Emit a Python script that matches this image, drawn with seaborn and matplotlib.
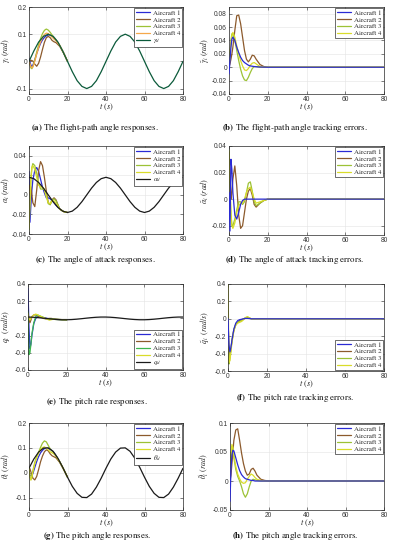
"""Formation flight simulation results: responses and tracking errors of four aircraft."""

import matplotlib
matplotlib.use("Agg")
import matplotlib.pyplot as plt
import matplotlib.transforms as mtransforms
import pandas as pd
import seaborn as sns

# ---- data ----
t_des = [0, 2.5, 5, 7.5, 10, 12.5, 15, 17.5, 20, 22.5, 25, 27.5, 30, 32.5, 35, 37.5,
         40, 42.5, 45, 47.5, 50, 52.5, 55, 57.5, 60, 62.5, 65, 67.5, 70, 72.5, 75, 77.5, 80]
t_tr = [0, 0.5, 1, 1.5, 2, 3, 4, 5, 6, 7, 8, 9, 10, 11, 12, 13, 14, 16, 18, 20]
t_err = t_tr + [80]
aircraft = ["Aircraft 1", "Aircraft 2", "Aircraft 3", "Aircraft 4"]

gamma_d = [0, 0.038, 0.071, 0.092, 0.1, 0.092, 0.071, 0.038, 0, -0.038, -0.071, -0.092,
           -0.1, -0.092, -0.071, -0.038, 0, 0.038, 0.071, 0.092, 0.1, 0.092, 0.071, 0.038,
           0, -0.038, -0.071, -0.092, -0.1, -0.092, -0.071, -0.038, 0]
alpha_d = [0.018, 0.0166, 0.0127, 0.0069, 0, -0.0069, -0.0127, -0.0166, -0.018, -0.0166,
           -0.0127, -0.0069, 0, 0.0069, 0.0127, 0.0166, 0.018, 0.0166, 0.0127, 0.0069, 0,
           -0.0069, -0.0127, -0.0166, -0.018, -0.0166, -0.0127, -0.0069, 0, 0.0069, 0.0127,
           0.0166, 0.018]
q_d = [0.0158, 0.0136, 0.0094, 0.0037, -0.0025, -0.0084, -0.0129, -0.0156, -0.0158, -0.0136,
       -0.0094, -0.0037, 0.0025, 0.0084, 0.0129, 0.0156, 0.0158, 0.0136, 0.0094, 0.0037,
       -0.0025, -0.0084, -0.0129, -0.0156, -0.0158, -0.0136, -0.0094, -0.0037, 0.0025,
       0.0084, 0.0129, 0.0156, 0.0158]
theta_d = [0.018, 0.055, 0.083, 0.099, 0.100, 0.086, 0.058, 0.022, -0.018, -0.055, -0.083,
           -0.099, -0.100, -0.086, -0.058, -0.022, 0.018, 0.055, 0.083, 0.099, 0.100, 0.086,
           0.058, 0.022, -0.018, -0.055, -0.083, -0.099, -0.100, -0.086, -0.058, -0.022, 0.018]

gamma_resp = [
    [0.01, -0.002, -0.014, -0.019, -0.014, 0.005, 0.029, 0.049, 0.066, 0.079, 0.088, 0.094,
     0.097, 0.097, 0.094, 0.088, 0.080, 0.058, 0.031, 0],
    [0, 0.003, 0.004, 0.003, 0.001, -0.010, -0.018, -0.007, 0.016, 0.044, 0.070, 0.087,
     0.092, 0.087, 0.077, 0.072, 0.069, 0.055, 0.030, 0],
    [0, -0.012, -0.024, -0.027, -0.019, 0.005, 0.034, 0.061, 0.084, 0.102, 0.114, 0.119,
     0.115, 0.107, 0.097, 0.088, 0.080, 0.059, 0.031, 0],
    [0, -0.010, -0.019, -0.024, -0.021, 0.000, 0.027, 0.051, 0.071, 0.087, 0.099, 0.104,
     0.102, 0.096, 0.089, 0.082, 0.076, 0.058, 0.031, 0],
]
gamma_err = [
    [-0.01, 0.01, 0.03, 0.042, 0.045, 0.04, 0.03, 0.022, 0.015, 0.01, 0.007, 0.005, 0.003,
     0.002, 0.0015, 0.001, 0.0007, 0.0003, 0.0001, 0, 0],
    [0, 0.005, 0.012, 0.02, 0.03, 0.055, 0.077, 0.078, 0.065, 0.045, 0.025, 0.012, 0.008,
     0.012, 0.018, 0.017, 0.012, 0.004, 0.001, 0, 0],
    [0, 0.02, 0.04, 0.05, 0.05, 0.04, 0.025, 0.01, -0.003, -0.013, -0.019, -0.02, -0.015,
     -0.008, -0.002, 0.001, 0.001, 0, 0, 0, 0],
    [0, 0.018, 0.035, 0.047, 0.052, 0.045, 0.032, 0.02, 0.01, 0.002, -0.004, -0.005, -0.002,
     0.003, 0.006, 0.007, 0.005, 0.001, 0, 0, 0],
]
alpha_resp = [
    [0.024, -0.028, -0.01, 0.005, 0.015, 0.025, 0.028, 0.024, 0.016, 0.008, 0.002, -0.003,
     -0.003, -0.004, -0.006, -0.008, -0.0106, -0.0146, -0.0171, -0.018],
    [0, 0.01, 0.008, 0, -0.008, -0.012, 0.005, 0.025, 0.034, 0.03, 0.018, 0.004, -0.008,
     -0.01, -0.005, -0.003, -0.005, -0.0146, -0.0171, -0.018],
    [-0.036, -0.01, 0.015, 0.028, 0.032, 0.03, 0.022, 0.012, 0.006, 0.006, 0.006, 0, -0.009,
     -0.01, -0.005, -0.004, -0.006, -0.0146, -0.0171, -0.018],
    [-0.034, -0.005, 0.018, 0.028, 0.03, 0.026, 0.018, 0.01, 0.008, 0.008, 0.005, -0.002,
     -0.008, -0.009, -0.006, -0.006, -0.009, -0.0146, -0.0171, -0.018],
]
alpha_err = [
    [0.005, -0.024, 0.03, 0.022, 0.005, -0.012, -0.015, -0.01, -0.004, -0.001, 0, 0, 0, 0,
     0, 0, 0, 0, 0, 0, 0],
    [0.035, 0.02, 0, 0.005, 0.015, 0.025, 0.01, -0.012, -0.022, -0.02, -0.01, 0, 0.006,
     0.008, 0.003, -0.004, -0.006, -0.003, -0.001, 0, 0],
    [0.037, 0.01, -0.012, -0.02, -0.02, -0.015, -0.008, -0.002, -0.002, -0.004, -0.002,
     0.005, 0.012, 0.013, 0.006, -0.002, -0.005, -0.003, -0.001, 0, 0],
    [0.036, 0.01, -0.01, -0.02, -0.022, -0.018, -0.01, -0.005, -0.003, -0.003, 0, 0.005,
     0.008, 0.009, 0.005, 0, -0.003, -0.002, -0.001, 0, 0],
]
q_resp = [
    [0.35, -0.1, -0.35, -0.3, -0.2, -0.06, 0, 0.02, 0.02, 0.015, 0.01, 0.005, 0, -0.004,
     -0.007, -0.009, -0.011, -0.014, -0.016, -0.016],
    [0.05, 0, -0.05, -0.02, 0.02, 0.04, 0.04, 0.03, 0.02, 0.01, 0, -0.005, -0.003, 0, 0,
     -0.005, -0.008, -0.012, -0.015, -0.016],
    [0.08, -0.42, -0.4, -0.3, -0.18, -0.05, 0.02, 0.04, 0.03, 0.02, 0.01, 0, -0.005, -0.008,
     -0.008, -0.009, -0.012, -0.013, -0.015, -0.016],
    [0.06, 0, -0.02, 0, 0.02, 0.04, 0.05, 0.04, 0.03, 0.02, 0.01, 0, -0.01, -0.02, -0.015,
     -0.01, -0.012, -0.013, -0.015, -0.016],
]
q_err = [
    [0, -0.3, -0.38, -0.33, -0.25, -0.12, -0.05, -0.02, -0.01, -0.005, 0, 0.005, 0.005,
     0.003, 0, 0, 0, 0, 0, 0, 0],
    [0, -0.35, -0.42, -0.35, -0.26, -0.13, -0.07, -0.04, -0.02, -0.01, 0, 0.01, 0.01, 0.005,
     0, 0, 0, 0, 0, 0, 0],
    [0, -0.52, -0.45, -0.35, -0.25, -0.12, -0.06, -0.04, -0.03, -0.02, -0.005, 0.01, 0.02,
     0.01, 0, 0, 0, 0, 0, 0, 0],
    [0.4, -0.5, -0.48, -0.38, -0.28, -0.14, -0.07, -0.05, -0.04, -0.03, -0.01, 0.015, 0.025,
     0.01, 0, 0, 0, 0, 0, 0, 0],
]
theta_resp = [
    [0, -0.01, -0.012, -0.012, -0.004, 0.021, 0.045, 0.065, 0.080, 0.090, 0.097, 0.099,
     0.098, 0.095, 0.089, 0.081, 0.070, 0.044, 0.014, -0.018],
    [0.018, 0.016, 0.003, -0.009, -0.022, -0.029, -0.015, 0.013, 0.044, 0.067, 0.084, 0.092,
     0.088, 0.076, 0.068, 0.064, 0.060, 0.041, 0.013, -0.018],
    [0.018, -0.014, -0.027, -0.014, 0.008, 0.041, 0.065, 0.083, 0.102, 0.119, 0.128, 0.124,
     0.110, 0.096, 0.087, 0.079, 0.069, 0.044, 0.014, -0.018],
    [0.018, -0.019, -0.030, -0.017, 0.003, 0.036, 0.061, 0.079, 0.094, 0.101, 0.104, 0.099,
     0.092, 0.084, 0.080, 0.075, 0.067, 0.043, 0.014, -0.018],
]
theta_err = [
    [-0.035, 0.02, 0.045, 0.053, 0.052, 0.04, 0.028, 0.018, 0.011, 0.007, 0.004, 0.003,
     0.002, 0.001, 0.001, 0, 0, 0, 0, 0, 0],
    [0, 0.01, 0.03, 0.05, 0.07, 0.088, 0.09, 0.07, 0.048, 0.03, 0.017, 0.01, 0.012, 0.02,
     0.022, 0.017, 0.01, 0.003, 0.001, 0, 0],
    [0, 0.04, 0.06, 0.055, 0.04, 0.02, 0.008, 0, -0.01, -0.022, -0.028, -0.022, -0.01, 0,
     0.003, 0.002, 0.001, 0, 0, 0, 0],
    [0, 0.045, 0.063, 0.058, 0.045, 0.025, 0.012, 0.004, -0.002, -0.004, -0.003, 0.003,
     0.008, 0.012, 0.01, 0.006, 0.003, 0.001, 0, 0, 0],
]

# ---- styling ----
BLUE, BROWN, YGREEN, YELLOW = "#2a2ad4", "#8c5a2c", "#9cc236", "#d9dc2a"
pal_std = [BLUE, BROWN, YGREEN, YELLOW]
pal_a = [BLUE, BROWN, YGREEN, "#f5a84a"]
pal_e = [BLUE, BROWN, "#3cb64e", YELLOW]

sns.set_theme(style="whitegrid", rc={
    "grid.color": "#e3e3e3", "grid.linewidth": 0.4,
    "axes.edgecolor": "#262626", "axes.linewidth": 0.5,
    "xtick.direction": "in", "ytick.direction": "in",
    "xtick.major.size": 2, "ytick.major.size": 2,
    "xtick.major.width": 0.4, "ytick.major.width": 0.4,
    "xtick.bottom": True, "ytick.left": True,
    "mathtext.fontset": "stix",
})
plt.rcParams["font.family"] = ["STIXGeneral", "DejaVu Sans"]

W, H = 393, 550
fig = plt.figure(figsize=(W / 100, H / 100), dpi=100)


def add_axes_px(left, top, right, bottom):
    """Axes from pixel box (left, top, right, bottom)."""
    return fig.add_axes([left / W, 1 - bottom / H, (right - left) / W, (bottom - top) / H])


def draw_panel(ax, t, series, colors, ylim, yticks, ylabel, label_x,
               des=None, des_label=None, des_color="k", loc="upper right", error=False):
    rows = [{"t": x, "y": y, "group": name}
            for name, ys in zip(aircraft, series) for x, y in zip(t, ys)]
    dfrm = pd.DataFrame(rows)
    sns.lineplot(data=dfrm, x="t", y="y", hue="group", palette=colors, linewidth=0.9,
                 sort=False, estimator=None, ax=ax)
    if des is not None:
        sns.lineplot(x=t_des, y=des, color=des_color, linewidth=0.9, label=des_label,
                     sort=False, estimator=None, ax=ax)
    if error:
        ax.lines[0].set_zorder(5)  # Aircraft 1 shows on top once all errors vanish
    ax.set_xlim(0, 80)
    ax.set_ylim(*ylim)
    ax.set_xticks([0, 20, 40, 60, 80])
    ax.set_yticks(yticks)
    ax.set_yticklabels(["0" if v == 0 else ("%g" % v) for v in yticks])
    for lab in ax.get_xticklabels() + ax.get_yticklabels():
        lab.set_family("Liberation Sans")
        lab.set_fontsize(4.8)
        lab.set_color("#333333")
    ax.tick_params(pad=1.5, top=True, right=True)
    ax.set_xlabel(r"$t\ (s)$", fontsize=6.0, labelpad=-0.5)
    ax.set_ylabel(ylabel, fontsize=5.7)
    # pin the y label at a fixed figure x so it never leaves the canvas
    trans = mtransforms.blended_transform_factory(fig.transFigure, ax.transAxes)
    ax.yaxis.set_label_coords(label_x / W, 0.5, transform=trans)
    handles, labels = ax.get_legend_handles_labels()
    leg = ax.legend(handles, labels, loc=loc, fontsize=5.0, frameon=True, fancybox=False,
                    framealpha=1, edgecolor="#333333", borderpad=0.25, labelspacing=0.15,
                    handlelength=2.0, handletextpad=0.4, borderaxespad=0.15)
    leg.get_frame().set_linewidth(0.5)
    for spine in ax.spines.values():
        spine.set_visible(True)


panels = [
    # (pixel box, t, series, palette, ylim, yticks, ylabel, desired, desired label, desired colour, legend loc, error)
    ((29, 7, 183, 94), t_tr, gamma_resp, pal_a, (-0.12, 0.2), [-0.1, 0, 0.1, 0.2],
     r"$\gamma_i\ (rad)$", gamma_d, r"$\gamma_d$", "#0b5a3a", "upper right", False),
    ((229, 7, 384, 94), t_err, gamma_err, pal_std, (-0.04, 0.09),
     [-0.04, -0.02, 0, 0.02, 0.04, 0.06, 0.08], r"$\tilde{\gamma}_i\ (rad)$",
     None, None, None, "upper right", True),
    ((29, 146, 183, 234), t_tr, alpha_resp, pal_std, (-0.04, 0.05), [-0.04, -0.02, 0, 0.02, 0.04],
     r"$\alpha_i\ (rad)$", alpha_d, r"$\alpha_d$", "k", "upper right", False),
    ((229, 146, 384, 235), t_err, alpha_err, pal_std, (-0.027, 0.04), [-0.02, 0, 0.02, 0.04],
     r"$\tilde{\alpha}_i\ (rad)$", None, None, None, "upper right", True),
    ((28, 284, 183, 370), t_tr, q_resp, pal_e, (-0.6, 0.4), [-0.6, -0.4, -0.2, 0, 0.2, 0.4],
     r"$q_i\ \ (rad/s)$", q_d, r"$q_d$", "k", "lower right", False),
    ((228, 284, 384, 371), t_err, q_err, pal_std, (-0.6, 0.4), [-0.6, -0.4, -0.2, 0, 0.2, 0.4],
     r"$\tilde{q}_i\ \ (rad/s)$", None, None, None, "lower right", True),
    ((29, 423, 183, 510), t_tr, theta_resp, pal_std, (-0.15, 0.2), [-0.1, 0, 0.1, 0.2],
     r"$\theta_i\ (rad)$", theta_d, r"$\theta_d$", "k", "upper right", False),
    ((230, 423, 384, 510), t_err, theta_err, pal_std, (-0.05, 0.1), [-0.05, 0, 0.05, 0.1],
     r"$\tilde{\theta}_i\ (rad)$", None, None, None, "upper right", True),
]

for box, t, series, pal, ylim, yticks, ylabel, des, des_label, des_color, loc, err in panels:
    ax = add_axes_px(*box)
    label_x = 12 if box[0] < 150 else 211
    draw_panel(ax, t, series, pal, ylim, yticks, ylabel, label_x,
               des, des_label, des_color, loc, err)

captions = [
    (95, 128, "a", "The flight-path angle responses."),
    (295, 128, "b", "The flight-path angle tracking errors."),
    (95, 260, "c", "The angle of attack responses."),
    (295, 260, "d", "The angle of attack tracking errors."),
    (97, 402, "e", "The pitch rate responses."),
    (295, 398, "f", "The pitch rate tracking errors."),
    (97, 536, "g", "The pitch angle responses."),
    (295, 536, "h", "The pitch angle tracking errors."),
]
for cx, cy, tag, text in captions:
    fig.text(cx / W, 1 - cy / H, r"$\mathbf{(%s)}$ %s" % (tag, text),
             ha="center", va="center", fontsize=6.4, color="#111111")

fig.savefig("out.png", dpi=100, facecolor="white")
